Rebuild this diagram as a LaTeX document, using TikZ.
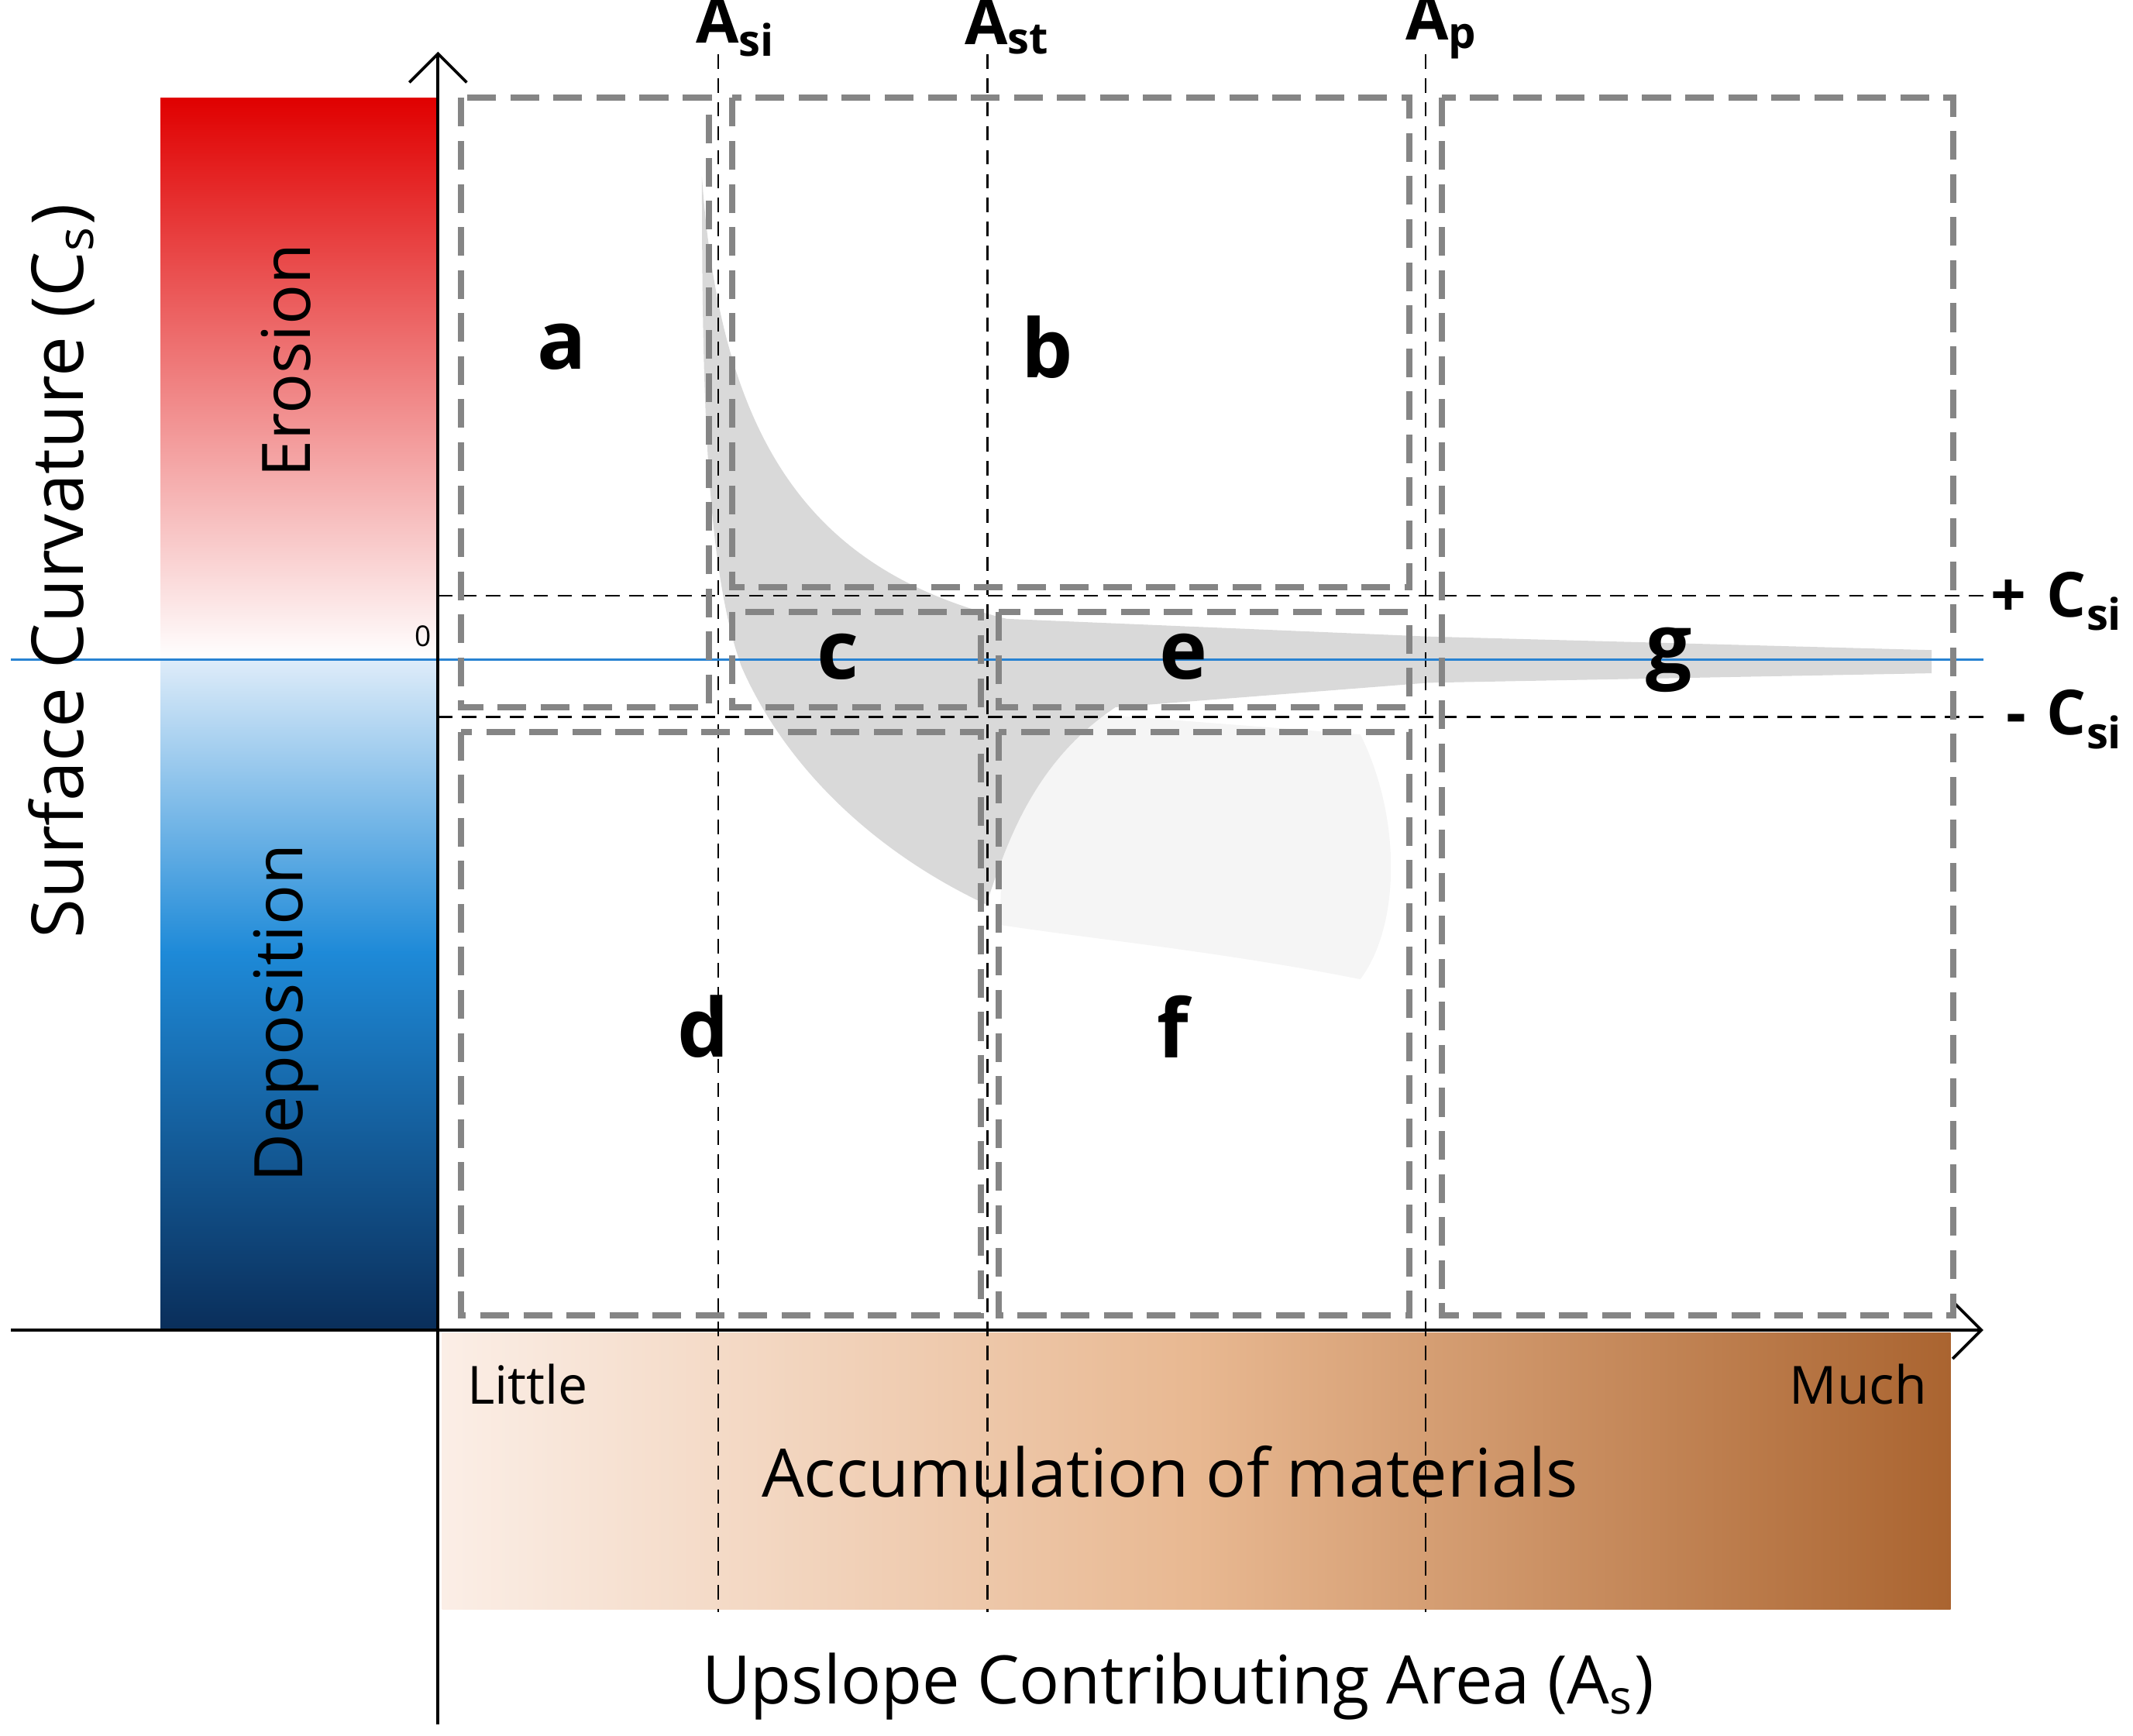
\documentclass[tikz,border=0pt]{standalone}
\usepackage{fontspec}
\setmainfont{Open Sans}
\usetikzlibrary{arrows.meta}
\definecolor{boxg}{HTML}{858585}
\definecolor{zline}{RGB}{40,130,210}
\definecolor{redt}{RGB}{224,0,0}
\definecolor{bluel}{RGB}{222,236,249}
\definecolor{bluem}{RGB}{30,138,216}
\definecolor{blued}{RGB}{10,46,90}
\definecolor{brl}{RGB}{251,238,230}
\definecolor{brm}{RGB}{232,184,145}
\definecolor{brd}{RGB}{170,100,48}
\begin{document}
\begin{tikzpicture}[x=0.01cm,y=-0.01cm,
  box/.style={draw=boxg,line width=1.3pt,dash pattern=on 6pt off 3pt},
  guide/.style={black,line width=0.4pt,densely dashed},
  lab/.style={font=\fontsize{17}{17}\selectfont\bfseries},
  top/.style={font=\fontsize{13}{13}\selectfont\bfseries}]
\useasboundingbox (0,0) rectangle (1568,1276);
% bars
\shade[top color=redt, bottom color=white] (118,72) rectangle (322,485);
\shade[top color=bluel, bottom color=bluem] (118,485) rectangle (322,700);
\shade[top color=bluem, bottom color=blued] (118,699.5) rectangle (322,978);
\shade[left color=brl, right color=brd, middle color=brm] (325,980) rectangle (1434,1183);
% scatter cloud
\fill[gray!8] (740,520) -- (1000,540) .. controls (1030,600) and (1030,680) .. (1000,720) .. controls (900,700) and (800,690) .. (735,680) -- cycle;
\fill[gray!30] (516,130) .. controls (530,330) and (600,420) .. (740,455) -- (1050,468) -- (1420,478) -- (1420,495) -- (1050,502) -- (820,520)
  .. controls (760,560) and (740,620) .. (725,665) .. controls (650,630) and (580,570) .. (545,490) .. controls (520,420) and (516,300) .. cycle;
% guides
\draw[guide] (322,438) -- (1458,438);
\draw[guide] (322,527) -- (1458,527);
\foreach \x in {528,726,1048} \draw[guide] (\x,40) -- (\x,1185);
\draw[zline,line width=0.6pt] (8,485) -- (1458,485);
% axes
\draw[-{Straight Barb[length=6pt]},line width=0.6pt] (322,1268) -- (322,38);
\draw[-{Straight Barb[length=6pt]},line width=0.6pt] (8,978) -- (1458,978);
% boxes
\draw[box] (339,72) rectangle (521,520);
\draw[box] (538,72) rectangle (1036,432);
\draw[box] (538,450) rectangle (721,520);
\draw[box] (734,450) rectangle (1036,520);
\draw[box] (339,538) rectangle (721,967);
\draw[box] (734,538) rectangle (1036,967);
\draw[box] (1060,72) rectangle (1436,967);
% labels
\node[lab] (la) at (413,255) {a};
\node[lab] (lb) at (770,255) {b};
\node[lab] (lc) at (616,483) {c};
\node[lab] (le) at (870,483) {e};
\node[lab] (lg) at (1227,485) {g};
\node[lab] (ld) at (517,755) {d};
\node[lab] (lf) at (862,755) {f};
\node[top] (asi) at (541,20) {A\textsubscript{si}};
\node[top] (ast) at (741,20) {A\textsubscript{st}};
\node[top] (ap) at (1060,20) {A\textsubscript{p}};
\node[top,anchor=east,inner sep=0pt] (pc) at (1562,442) {+\,\,C\textsubscript{si}};
\node[top,anchor=east,inner sep=0pt] (mc) at (1562,529) {-\,\,C\textsubscript{si}};
\node[font=\fontsize{6}{6}\selectfont] (zero) at (311,468) {0};
\node[rotate=90,font=\fontsize{14}{14}\selectfont] (ero) at (210,265) {Erosion};
\node[rotate=90,font=\fontsize{14}{14}\selectfont] (dep) at (210,745) {Deposition};
\node[rotate=90,font=\fontsize{15}{15}\selectfont] (sc) at (45,420) {Surface Curvature (C\textsubscript{s})};
\node[font=\fontsize{11}{11}\selectfont] (lit) at (388,1018) {Little};
\node[font=\fontsize{11}{11}\selectfont] (much) at (1366,1018) {Much};
\node[font=\fontsize{14}{14}\selectfont] (acc) at (860,1082) {Accumulation of materials};
\node[font=\fontsize{14}{14}\selectfont] (up) at (866,1240) {Upslope Contributing Area (A\textsubscript{s})};
\end{tikzpicture}
\end{document}
